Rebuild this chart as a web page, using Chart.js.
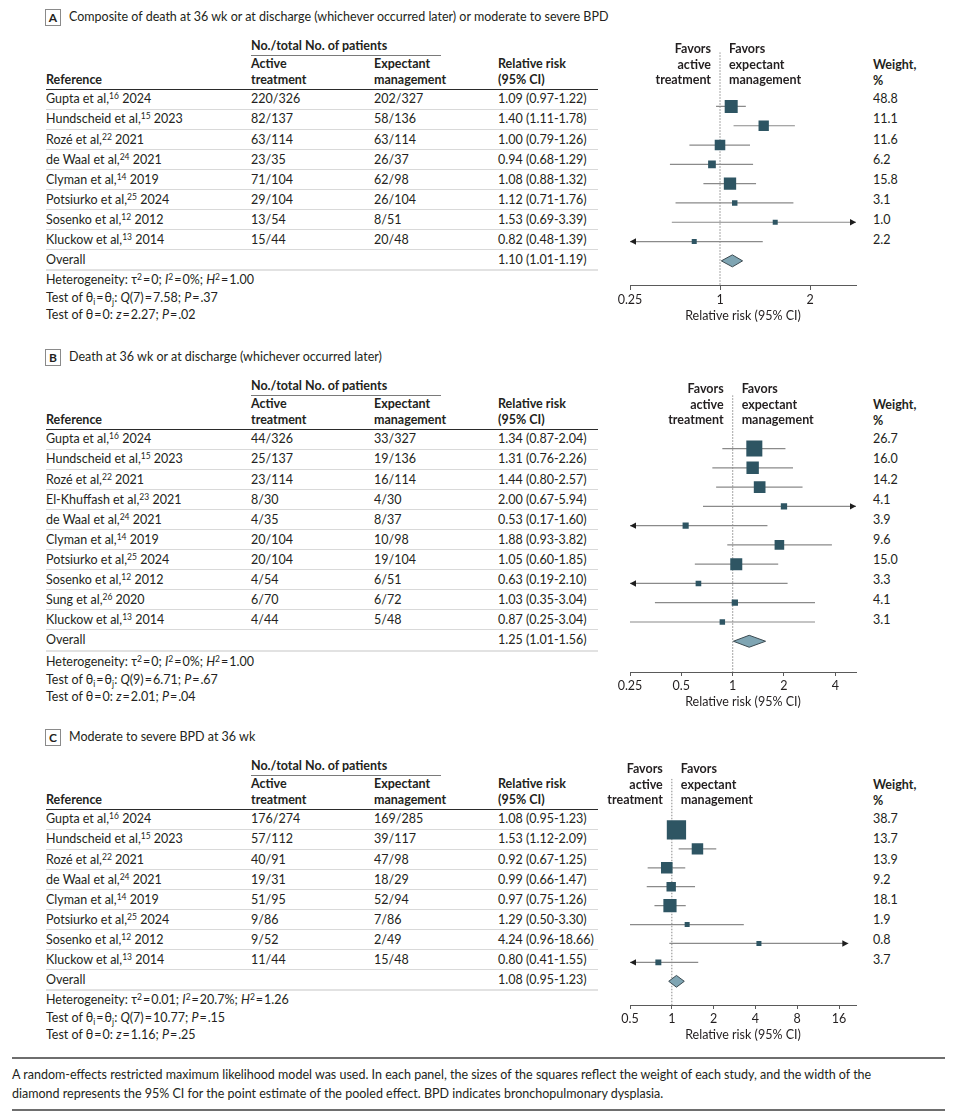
<!DOCTYPE html>
<html>
<head>
<meta charset="utf-8">
<script src="https://cdn.jsdelivr.net/npm/chart.js@4.4.1/dist/chart.umd.min.js"></script>
<style>
  html, body { margin: 0; padding: 0; background: #fff; }
  #page { position: relative; width: 970px; height: 1119px; overflow: hidden;
          font-family: Lato, "Open Sans", sans-serif; font-size: 12.5px; color: #231f20; }
  .t { position: absolute; white-space: nowrap; line-height: 16px; height: 16px; }
  .b { font-weight: 700; }
  .t sup { font-size: 8.5px; line-height: 0; vertical-align: 4px; }
  .t sub { font-size: 8.5px; line-height: 0; vertical-align: -3px; }
  .eq { margin: 0 1px; }
  .hr { position: absolute; }
  .box { position: absolute; box-sizing: border-box; width: 16px; height: 17px; border: 1px solid #8a8a8a;
         font-weight: 700; font-size: 12px; line-height: 15px; text-align: center; }
  canvas { position: absolute; }
</style>
</head>
<body>
<div id="page"></div>
<script>
  // ---- panel A: composite of death or BPD
  var A_NAMES = ['Gupta et al', 'Hundscheid et al', 'Rozé et al', 'de Waal et al', 'Clyman et al', 'Potsiurko et al', 'Sosenko et al', 'Kluckow et al'];
  var A_CITES = [16, 15, 22, 24, 14, 25, 12, 13];
  var A_YEARS = [2024, 2023, 2021, 2021, 2019, 2024, 2012, 2014];
  var A_ACTIVE = ['220/326', '82/137', '63/114', '23/35', '71/104', '29/104', '13/54', '15/44'];
  var A_EXPECT = ['202/327', '58/136', '63/114', '26/37', '62/98', '26/104', '8/51', '20/48'];
  var A_RR = [1.09, 1.40, 1.00, 0.94, 1.08, 1.12, 1.53, 0.82];
  var A_LO = [0.97, 1.11, 0.79, 0.68, 0.88, 0.71, 0.69, 0.48];
  var A_HI = [1.22, 1.78, 1.26, 1.29, 1.32, 1.76, 3.39, 1.39];
  var A_WEIGHT = [48.8, 11.1, 11.6, 6.2, 15.8, 3.1, 1.0, 2.2];
  var A_OVERALL = [1.10, 1.01, 1.19];
  var A_HET = ['0', '0%', '1.00'];
  var A_QTEST = [7, '7.58', '.37'];
  var A_ZTEST = ['2.27', '.02'];
  var A_RANGE = [0.5, 2.85];
  var A_TICKS = [0.5, 1, 2];
  var A_TICK_LABELS = ['0.25', '1', '2'];

  // ---- panel B: death
  var B_NAMES = ['Gupta et al', 'Hundscheid et al', 'Rozé et al', 'El-Khuffash et al', 'de Waal et al', 'Clyman et al', 'Potsiurko et al', 'Sosenko et al', 'Sung et al', 'Kluckow et al'];
  var B_CITES = [16, 15, 22, 23, 24, 14, 25, 12, 26, 13];
  var B_YEARS = [2024, 2023, 2021, 2021, 2021, 2019, 2024, 2012, 2020, 2014];
  var B_ACTIVE = ['44/326', '25/137', '23/114', '8/30', '4/35', '20/104', '20/104', '4/54', '6/70', '4/44'];
  var B_EXPECT = ['33/327', '19/136', '16/114', '4/30', '8/37', '10/98', '19/104', '6/51', '6/72', '5/48'];
  var B_RR = [1.34, 1.31, 1.44, 2.00, 0.53, 1.88, 1.05, 0.63, 1.03, 0.87];
  var B_LO = [0.87, 0.76, 0.80, 0.67, 0.17, 0.93, 0.60, 0.19, 0.35, 0.25];
  var B_HI = [2.04, 2.26, 2.57, 5.94, 1.60, 3.82, 1.85, 2.10, 3.04, 3.04];
  var B_WEIGHT = [26.7, 16.0, 14.2, 4.1, 3.9, 9.6, 15.0, 3.3, 4.1, 3.1];
  var B_OVERALL = [1.25, 1.01, 1.56];
  var B_HET = ['0', '0%', '1.00'];
  var B_QTEST = [9, '6.71', '.67'];
  var B_ZTEST = ['2.01', '.04'];
  var B_RANGE = [0.25, 5.29];
  var B_TICKS = [0.25, 0.5, 1, 2, 4];
  var B_TICK_LABELS = ['0.25', '0.5', '1', '2', '4'];

  // ---- panel C: moderate to severe BPD
  var C_NAMES = ['Gupta et al', 'Hundscheid et al', 'Rozé et al', 'de Waal et al', 'Clyman et al', 'Potsiurko et al', 'Sosenko et al', 'Kluckow et al'];
  var C_CITES = [16, 15, 22, 24, 14, 25, 12, 13];
  var C_YEARS = [2024, 2023, 2021, 2021, 2019, 2024, 2012, 2014];
  var C_ACTIVE = ['176/274', '57/112', '40/91', '19/31', '51/95', '9/86', '9/52', '11/44'];
  var C_EXPECT = ['169/285', '39/117', '47/98', '18/29', '52/94', '7/86', '2/49', '15/48'];
  var C_RR = [1.08, 1.53, 0.92, 0.99, 0.97, 1.29, 4.24, 0.80];
  var C_LO = [0.95, 1.12, 0.67, 0.66, 0.75, 0.50, 0.96, 0.41];
  var C_HI = [1.23, 2.09, 1.25, 1.47, 1.26, 3.30, 18.66, 1.55];
  var C_WEIGHT = [38.7, 13.7, 13.9, 9.2, 18.1, 1.9, 0.8, 3.7];
  var C_OVERALL = [1.08, 0.95, 1.23];
  var C_HET = ['0.01', '20.7%', '1.26'];
  var C_QTEST = [7, '10.77', '.15'];
  var C_ZTEST = ['1.16', '.25'];
  var C_RANGE = [0.5, 21.2];
  var C_TICKS = [0.5, 1, 2, 4, 8, 16];
  var C_TICK_LABELS = ['0.5', '1', '2', '4', '8', '16'];

  var TITLES = [
    'Composite of death at 36 wk or at discharge (whichever occurred later) or moderate to severe BPD',
    'Death at 36 wk or at discharge (whichever occurred later)',
    'Moderate to severe BPD at 36 wk'
  ];
  var FOOTNOTE = [
    'A random-effects restricted maximum likelihood model was used. In each panel, the sizes of the squares reflect the weight of each study, and the width of the',
    'diamond represents the 95% CI for the point estimate of the pooled effect. BPD indicates bronchopulmonary dysplasia.'
  ];

  // ---- layout (page pixels)
  var STEP = 20.06;
  var COL = { ref: 46, active: 251, expect: 374, rr: 498, weight: 873, right: 598 };
  var LAYOUT = [
    { top: 0,   lineTop: 43,  axisY: 286,  statsY: 280,  maxBox: 13 },
    { top: 340, lineTop: 384, axisY: 672,  statsY: 662,  maxBox: 40 },
    { top: 720, lineTop: 765, axisY: 1005, statsY: 1000, maxBox: 40 }
  ];
  var INK = '#231f20';
  var FONT = { family: 'Lato, "Open Sans", sans-serif', size: 12.5 };

  var page = document.getElementById('page');

  function text(x, y, html, cls, align) {
    var d = document.createElement('div');
    d.className = 't' + (cls ? ' ' + cls : '');
    d.innerHTML = html;
    d.style.top = (y - 8) + 'px';
    if (align === 'right') d.style.right = (970 - x) + 'px';
    else d.style.left = x + 'px';
    page.appendChild(d);
    return d;
  }
  function rule(x1, x2, y, h, color) {
    var d = document.createElement('div');
    d.className = 'hr';
    d.style.left = x1 + 'px';
    d.style.width = (x2 - x1) + 'px';
    d.style.top = (y - h / 2) + 'px';
    d.style.height = h + 'px';
    d.style.background = color;
    page.appendChild(d);
  }
  function eq() { return '<span class="eq">=</span>'; }
  function fmt(v) { return v.toFixed(2); }

  // arrowheads for intervals running past the outer ticks
  var ciArrows = {
    id: 'ciArrows',
    afterDatasetsDraw: function (chart, args, opts) {
      var ctx = chart.ctx, x = chart.scales.x, y = chart.scales.y;
      var first = opts.ticks[0], last = opts.ticks[opts.ticks.length - 1];
      ctx.save();
      ctx.fillStyle = '#1e1e1e';
      for (var i = 0; i < opts.lo.length; i++) {
        var py = y.getPixelForValue(i);
        if (opts.lo[i] < first) {
          var tx = x.getPixelForValue(Math.max(opts.lo[i], x.min));
          ctx.beginPath();
          ctx.moveTo(tx, py); ctx.lineTo(tx + 6, py - 3.2); ctx.lineTo(tx + 6, py + 3.2);
          ctx.closePath(); ctx.fill();
        }
        if (opts.hi[i] > last) {
          var tx2 = x.getPixelForValue(Math.min(opts.hi[i], x.max));
          ctx.beginPath();
          ctx.moveTo(tx2, py); ctx.lineTo(tx2 - 6, py - 3.2); ctx.lineTo(tx2 - 6, py + 3.2);
          ctx.closePath(); ctx.fill();
        }
      }
      ctx.restore();
    }
  };

  function buildPanel(k, letter, p) {
    var L = LAYOUT[k];
    var top = L.top, row0 = top + 99.4, n = p.names.length;
    function rowY(i) { return row0 + STEP * i; }

    // panel heading
    var box = document.createElement('div');
    box.className = 'box';
    box.textContent = letter;
    box.style.left = '45px';
    box.style.top = (top + 9) + 'px';
    page.appendChild(box);
    text(69, top + 17, TITLES[k]);

    // table header
    text(COL.active, top + 46, 'No./total No. of patients', 'b');
    rule(COL.active, 441, top + 55, 1, '#7a7a7a');
    text(COL.active, top + 64, 'Active', 'b');
    text(COL.active, top + 80, 'treatment', 'b');
    text(COL.expect, top + 64, 'Expectant', 'b');
    text(COL.expect, top + 80, 'management', 'b');
    text(COL.rr, top + 64, 'Relative risk', 'b');
    text(COL.rr, top + 80, '(95% CI)', 'b');
    text(COL.ref, top + 80, 'Reference', 'b');
    rule(COL.ref, COL.right, top + 89.5, 1.3, '#2a2a2a');

    // study rows
    for (var i = 0; i < n; i++) {
      var y = rowY(i);
      text(COL.ref, y, p.names[i] + ',<sup>' + p.cites[i] + '</sup> ' + p.years[i]);
      text(COL.active, y, p.active[i]);
      text(COL.expect, y, p.expect[i]);
      text(COL.rr, y, fmt(p.rr[i]) + ' (' + fmt(p.lo[i]) + '-' + fmt(p.hi[i]) + ')');
      text(COL.weight, y, p.weight[i].toFixed(1));
      rule(COL.ref, COL.right, y + 10, 1, '#d9d9d9');
    }
    text(COL.ref, rowY(n), 'Overall');
    text(COL.rr, rowY(n), fmt(p.overall[0]) + ' (' + fmt(p.overall[1]) + '-' + fmt(p.overall[2]) + ')');
    rule(COL.ref, COL.right, rowY(n) + 10.5, 2, '#e2e2e2');

    // heterogeneity statistics
    text(COL.ref, L.statsY, 'Heterogeneity: τ<sup>2</sup>' + eq() + p.het[0] + '; <i>I</i><sup>2</sup>' + eq() + p.het[1] +
      '; <i>H</i><sup>2</sup>' + eq() + p.het[2]);
    text(COL.ref, L.statsY + 17.6, 'Test of θ<sub>i</sub>' + eq() + 'θ<sub>j</sub>: <i>Q</i>(' + p.q[0] + ')' + eq() + p.q[1] +
      '; <i>P</i>' + eq() + p.q[2]);
    text(COL.ref, L.statsY + 35.2, 'Test of θ' + eq() + '0: <i>z</i>' + eq() + p.z[0] + '; <i>P</i>' + eq() + p.z[1]);

    // weight header
    text(COL.weight, top + 65, 'Weight,', 'b');
    text(COL.weight, top + 81, '%', 'b');

    // forest plot
    var canvas = document.createElement('canvas');
    var h = L.axisY + 40 - L.lineTop;
    canvas.width = 370;
    canvas.height = h;
    canvas.style.left = '600px';
    canvas.style.top = L.lineTop + 'px';
    page.appendChild(canvas);

    var yMin = (L.lineTop - row0) / STEP;
    var yMax = (L.axisY - row0) / STEP;

    var est = [], ci = [], sizes = [];
    for (var j = 0; j < n; j++) {
      est.push({ x: p.rr[j], y: j });
      ci.push({ x: p.lo[j], y: j }, { x: p.hi[j], y: j }, { x: null, y: null });
      var side = Math.min(L.maxBox, Math.max(5, 3.1 * Math.sqrt(p.weight[j])));
      sizes.push(side / Math.SQRT2);
    }
    var o = p.overall;
    var diamond = [
      { x: o[1], y: n }, { x: o[0], y: n - 0.31 }, { x: o[2], y: n }, { x: o[0], y: n + 0.31 }, { x: o[1], y: n }
    ];

    var chart = new Chart(canvas, {
      type: 'scatter',
      data: {
        datasets: [
          { type: 'scatter', data: est, pointStyle: 'rect', pointRadius: sizes, backgroundColor: '#2e5563', borderWidth: 0 },
          { type: 'line', data: diamond, fill: 'shape', backgroundColor: '#7fa5b3', borderColor: '#3b4a51', borderWidth: 1,
            pointRadius: 0, tension: 0 },
          { type: 'line', data: ci, borderColor: '#8a8a8a', borderWidth: 1.2, pointRadius: 0, spanGaps: false },
          { type: 'line', data: [{ x: 1, y: yMin }, { x: 1, y: yMax }], borderColor: '#9c9c9c', borderWidth: 1.2,
            borderDash: [1.5, 1.5], pointRadius: 0 }
        ]
      },
      options: {
        responsive: false,
        animation: false,
        events: [],
        layout: { padding: { left: 30, right: 114, top: 0, bottom: 0 } },
        plugins: {
          legend: { display: false },
          tooltip: { enabled: false },
          ciArrows: { lo: p.lo, hi: p.hi, ticks: p.ticks }
        },
        scales: {
          x: {
            type: 'logarithmic',
            bounds: 'data',
            min: p.range[0],
            max: p.range[1],
            afterBuildTicks: function (s) { s.ticks = p.ticks.map(function (v) { return { value: v }; }); },
            afterFit: function (s) { s.height = 40; },
            ticks: {
              autoSkip: false, maxRotation: 0, padding: 2, color: INK, font: FONT,
              callback: function (v, idx) { return p.tickLabels[idx]; }
            },
            grid: { drawOnChartArea: false, drawTicks: true, tickLength: 4, color: '#5a5a5a' },
            border: { display: true, color: '#5a5a5a', width: 1 },
            title: { display: true, text: 'Relative risk (95% CI)', color: INK, font: FONT, padding: { top: 0, bottom: 2.5 } }
          },
          y: { type: 'linear', display: false, reverse: true, bounds: 'data', min: yMin, max: yMax }
        }
      },
      plugins: [ciArrows]
    });

    // favours labels either side of the line of no effect
    var x1 = 600 + chart.scales.x.getPixelForValue(1);
    text(x1 - 9, top + 49, 'Favors', 'b', 'right');
    text(x1 - 9, top + 65, 'active', 'b', 'right');
    text(x1 - 9, top + 80, 'treatment', 'b', 'right');
    text(x1 + 9, top + 49, 'Favors', 'b');
    text(x1 + 9, top + 65, 'expectant', 'b');
    text(x1 + 9, top + 80, 'management', 'b');
  }

  buildPanel(0, 'A', { names: A_NAMES, cites: A_CITES, years: A_YEARS, active: A_ACTIVE, expect: A_EXPECT,
    rr: A_RR, lo: A_LO, hi: A_HI, weight: A_WEIGHT, overall: A_OVERALL, het: A_HET, q: A_QTEST, z: A_ZTEST,
    range: A_RANGE, ticks: A_TICKS, tickLabels: A_TICK_LABELS });
  buildPanel(1, 'B', { names: B_NAMES, cites: B_CITES, years: B_YEARS, active: B_ACTIVE, expect: B_EXPECT,
    rr: B_RR, lo: B_LO, hi: B_HI, weight: B_WEIGHT, overall: B_OVERALL, het: B_HET, q: B_QTEST, z: B_ZTEST,
    range: B_RANGE, ticks: B_TICKS, tickLabels: B_TICK_LABELS });
  buildPanel(2, 'C', { names: C_NAMES, cites: C_CITES, years: C_YEARS, active: C_ACTIVE, expect: C_EXPECT,
    rr: C_RR, lo: C_LO, hi: C_HI, weight: C_WEIGHT, overall: C_OVERALL, het: C_HET, q: C_QTEST, z: C_ZTEST,
    range: C_RANGE, ticks: C_TICKS, tickLabels: C_TICK_LABELS });

  // footnote
  rule(12, 945, 1058, 1.5, '#6e6e6e');
  text(12, 1075, FOOTNOTE[0]);
  text(12, 1094, FOOTNOTE[1]);
  rule(12, 945, 1110, 1.5, '#6e6e6e');
</script>
</body>
</html>
